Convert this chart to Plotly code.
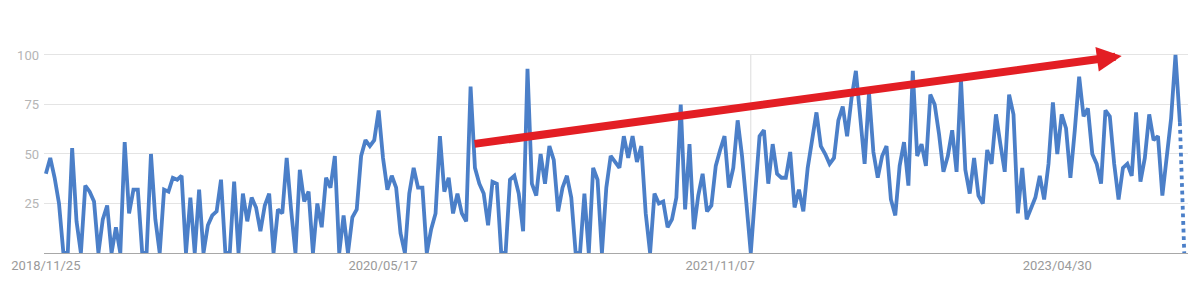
import pandas as pd
import plotly.graph_objects as go

# ---- data ----
start_date = "2018-11-25"
interest = [
    40, 48, 38, 25, 0, 0, 53, 16, 0, 34, 31, 26, 0, 17, 24, 0, 13, 0, 56, 20,
    32, 32, 0, 0, 50, 17, 0, 32, 31, 38, 37, 39, 0, 28, 0, 32, 0, 14, 19, 21,
    37, 0,
    0, 36, 0, 30, 16, 28, 23, 11, 24, 30, 0, 22, 20, 48, 22, 0, 42, 26, 31, 0,
    25, 13, 38, 33, 49, 0, 19, 0, 18, 22, 49, 57, 54, 57, 72, 48, 32, 39, 33, 10,
    0, 30,
    43, 33, 33, 0, 12, 20, 59, 31, 38, 20, 30, 20, 16, 84, 43, 35, 30, 14, 36, 35,
    0, 0, 37, 39, 30, 11, 93, 35, 29, 50, 35, 54, 47, 21, 33, 39, 28, 0, 0, 30,
    0, 43, 37, 0, 33, 49,
    46, 43, 59, 48, 59, 46, 54, 20, 0, 30, 25, 26, 13, 17, 28, 75, 22, 55, 12, 29,
    40, 21, 24, 44, 52, 59, 33, 43, 67, 49, 25, 0, 30, 59, 62, 35, 55, 40, 38, 38,
    51, 23, 32,
    21, 43, 56, 71, 54, 50, 45, 48, 67, 74, 59, 78, 92, 68, 45, 81, 51, 38, 49, 54,
    27, 19, 44, 56, 34, 92, 49, 55, 44, 80, 75, 60, 41, 49, 62, 41, 88, 42, 30, 48,
    29, 25, 52, 45, 70, 55, 41, 80, 70, 20, 43, 17, 22, 28, 39, 27, 45, 76, 50, 70,
    63, 38, 62, 89, 69, 73, 50, 45, 35, 72, 69, 45, 27, 43, 45, 39, 71, 36, 48, 70,
    57, 59, 29, 50, 68, 100, 66, 0,
]
tick_dates = ["2018-11-25", "2020-05-17", "2021-11-07", "2023-04-30"]
tick_labels = ["2018/11/25", "2020/05/17", "2021/11/07", "2023/04/30"]
y_ticks = [25, 50, 75, 100]
hover_date = "2021-12-26"
arrow_tail = ("2020-10-08", 55)
arrow_tip = ("2023-08-11", 99.5)

weeks = pd.date_range(start=start_date, periods=len(interest), freq="7D")
x_range = ["2018-11-22", "2023-11-25"]

BLUE = "#4b7fc8"
RED = "#e31e24"

fig = go.Figure()
fig.add_trace(go.Scatter(
    x=weeks[:-1], y=interest[:-1], mode="lines",
    line=dict(color=BLUE, width=3.8), hoverinfo="skip", showlegend=False,
))
fig.add_trace(go.Scatter(
    x=weeks[-2:], y=interest[-2:], mode="lines",
    line=dict(color=BLUE, width=3.8, dash="dot"), hoverinfo="skip", showlegend=False,
))

# hover guide line
fig.add_shape(type="line", xref="x", yref="y", x0=hover_date, x1=hover_date,
              y0=0, y1=100, line=dict(color="#dcdcdc", width=1), layer="below")

fig.add_annotation(
    x=arrow_tip[0], y=arrow_tip[1], ax=arrow_tail[0], ay=arrow_tail[1],
    xref="x", yref="y", axref="x", ayref="y",
    text="", showarrow=True, arrowhead=2, arrowsize=0.62, arrowwidth=8,
    arrowcolor=RED, standoff=0, startstandoff=0,
)

fig.update_layout(
    width=1200, height=293,
    margin=dict(l=44, r=12, t=53, b=40),
    paper_bgcolor="white", plot_bgcolor="white",
    font=dict(family="Roboto, Arial, sans-serif", size=13, color="#9a9a9a"),
    xaxis=dict(
        type="date", range=x_range,
        tickvals=tick_dates, ticktext=tick_labels,
        showgrid=False, zeroline=False, ticks="",
        showline=True, linecolor="#a8a8a8", linewidth=1, layer="below traces",
        tickfont=dict(size=13, color="#9a9a9a"),
    ),
    yaxis=dict(
        range=[0, 101], tickvals=y_ticks, ticktext=[str(v) for v in y_ticks],
        showgrid=True, gridcolor="#e4e4e4", gridwidth=1,
        zeroline=False, showline=False, ticks="", ticklabelstandoff=4,
        tickfont=dict(size=13, color="#b5b5b5"),
    ),
)

fig.write_html("out.html")
